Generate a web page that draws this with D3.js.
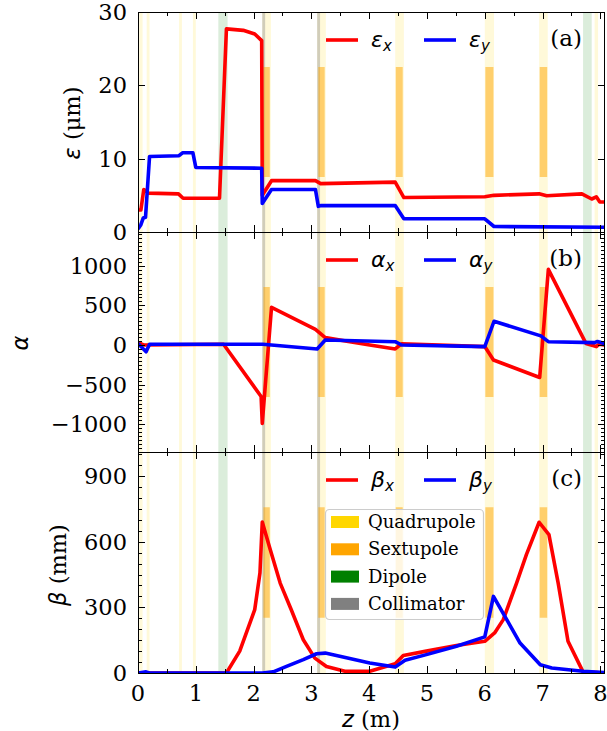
<!DOCTYPE html>
<html lang="en">
<head>
<meta charset="utf-8">
<script src="https://cdn.jsdelivr.net/npm/d3@7"></script>
<style>
  body { margin: 0; background: white; }
  svg { font-family: 'DejaVu Serif'; background: white; }
  .ticklabel { font-size: 22.5px; fill: #000; }
  .math { font-family: 'DejaVu Sans'; font-style: italic; }
</style>
</head>
<body>
<svg width="607" height="731"></svg>
<script>
// lattice elements (z ranges in m)
const quadrupoles = [[0.02, 0.08], [0.15, 0.2], [0.71, 0.76], [0.95, 1.0], [2.15, 2.3], [3.1, 3.25],
                     [4.45, 4.6], [6.0, 6.16], [6.94, 7.09], [7.9, 7.96]];
const sextupoles = [[2.17, 2.28], [3.12, 3.23], [4.46, 4.58], [6.01, 6.15], [6.95, 7.08]];
const dipoles = [[1.39, 1.55], [7.7, 7.85]];
const collimators = [[2.15, 2.2], [3.1, 3.15]];

// emittance (um)
const epsX = [[0, 3.0], [0.05, 3.0], [0.1, 5.8], [0.18, 5.3], [0.7, 5.2], [0.78, 4.6], [1.41, 4.6], [1.53, 27.7],
              [1.82, 27.5], [2.02, 27.0], [2.14, 26.1], [2.15, 5.0], [2.31, 7.0], [3.07, 7.0], [3.16, 6.6],
              [4.45, 6.8], [4.6, 4.7], [6.0, 4.8], [6.16, 5.0], [6.94, 5.2], [7.07, 4.95], [7.68, 5.2],
              [7.85, 4.5], [7.93, 4.8], [7.99, 4.1], [8.07, 4.1]];
const epsY = [[0, 0.4], [0.05, 1.0], [0.09, 1.9], [0.13, 2.0], [0.2, 10.3], [0.71, 10.4], [0.77, 10.8],
              [0.95, 10.8], [1.0, 8.8], [2.14, 8.7], [2.15, 3.9], [2.31, 5.8], [3.07, 5.8], [3.12, 3.5],
              [3.17, 3.6], [4.45, 3.6], [4.6, 1.8], [6.0, 1.8], [6.16, 0.75], [8.07, 0.65]];

// alpha
const alphaX = [[0, 30], [0.1, 0], [1.48, 10], [2.13, -650], [2.15, -990], [2.31, 475], [3.07, 198],
                [3.24, 93], [4.01, 0], [4.45, -50], [4.56, 15], [6.0, -20], [6.15, -190], [6.95, -410],
                [7.1, 955], [7.75, 20], [7.93, -20], [7.98, 10], [8.07, 0]];
const alphaY = [[0, 20], [0.14, -85], [0.2, 10], [2.16, 10], [3.1, -50], [3.24, 63], [4.45, 42], [4.56, 0],
                [6.0, -20], [6.16, 300], [6.97, 115], [7.1, 42], [7.9, 30], [7.95, 45], [8.07, 20]];

// beta (mm)
const betaX = [[0, 0], [1.53, 0], [1.76, 100], [2.02, 290], [2.11, 457], [2.15, 690], [2.28, 571],
               [2.46, 411], [2.65, 290], [2.86, 152], [3.06, 68], [3.26, 30], [3.58, 8], [4.01, 8],
               [4.45, 42], [4.59, 80], [4.99, 100], [5.51, 126], [6.0, 145], [6.17, 183], [6.32, 244],
               [6.55, 411], [6.72, 541], [6.94, 689], [7.11, 632], [7.27, 411], [7.44, 145], [7.7, 5], [8.07, 0]];
const betaY = [[0, 0], [0.14, 5], [0.2, 0], [2.15, 0], [2.34, 5], [2.57, 30], [2.86, 61], [3.09, 88],
               [3.24, 91], [4.01, 46], [4.45, 27], [4.62, 58], [4.99, 84], [5.51, 122], [6.0, 165],
               [6.15, 350], [6.38, 244], [6.61, 137], [6.96, 38], [7.16, 23], [7.7, 8], [8.07, 2]];

const zTicks = [0, 1, 2, 3, 4, 5, 6, 7, 8];
const epsTicks = [0, 10, 20, 30];
const alphaTicks = [-1000, -500, 0, 500, 1000];
const betaTicks = [0, 300, 600, 900];

const svg = d3.select("svg");
const left = 138, right = 605;
const x = d3.scaleLinear().domain([0, 8.08]).range([left, right]);

const panels = [
  {id: "a", top: 12, bottom: 232, domain: [0, 30], ticks: epsTicks, minor: null,
   sx: epsX, sy: epsY, sym: "\u03b5", xlabel: false},
  {id: "b", top: 232, bottom: 452, domain: [-1351, 1427], ticks: alphaTicks, minor: 50,
   sx: alphaX, sy: alphaY, sym: "\u03b1", xlabel: false},
  {id: "c", top: 452, bottom: 673, domain: [0, 1010], ticks: betaTicks, minor: 50,
   sx: betaX, sy: betaY, sym: "\u03b2", xlabel: true}
];

const fmt = v => (v < 0 ? "\u2212" + Math.abs(v) : "" + v);

panels.forEach(p => {
  const y = d3.scaleLinear().domain(p.domain).range([p.bottom, p.top]);
  const g = svg.append("g");
  const h = p.bottom - p.top;

  g.append("clipPath").attr("id", "clip-" + p.id)
    .append("rect").attr("x", left).attr("y", p.top).attr("width", right - left).attr("height", h);

  const bands = g.append("g");
  const span = (list, color, op, y0, y1) => {
    bands.selectAll(null).data(list).enter().append("rect")
      .attr("x", d => x(d[0])).attr("width", d => x(d[1]) - x(d[0]))
      .attr("y", p.top + y0 * h).attr("height", (y1 - y0) * h)
      .attr("fill", color).attr("fill-opacity", op);
  };
  span(quadrupoles, "#FFD700", 0.15, 0, 1);
  span(dipoles, "#008000", 0.14, 0, 1);
  span(collimators, "#808080", 0.36, 0, 1);
  span(sextupoles, "#FFA500", 0.5, 0.25, 0.75);

  const line = d3.line().x(d => x(d[0])).y(d => y(d[1]));
  const lines = g.append("g").attr("clip-path", "url(#clip-" + p.id + ")");
  lines.append("path").datum(p.sx).attr("d", line)
    .attr("fill", "none").attr("stroke", "#ff0000").attr("stroke-width", 3.6).attr("stroke-linejoin", "round");
  lines.append("path").datum(p.sy).attr("d", line)
    .attr("fill", "none").attr("stroke", "#0000ff").attr("stroke-width", 3.6).attr("stroke-linejoin", "round");

  // ticks, all pointing inward
  const tk = g.append("g").attr("stroke", "#000").attr("stroke-width", 1);
  d3.range(0, 8.01, 0.5).forEach(v => {
    const len = Number.isInteger(v) ? 7 : 4;
    const xx = Math.round(x(v)) + 0.5;
    tk.append("line").attr("x1", xx).attr("x2", xx).attr("y1", p.bottom).attr("y2", p.bottom - len);
    tk.append("line").attr("x1", xx).attr("x2", xx).attr("y1", p.top).attr("y2", p.top + len);
  });
  if (p.minor) {
    d3.range(Math.ceil(p.domain[0] / p.minor) * p.minor, p.domain[1], p.minor).forEach(v => {
      const yy = Math.round(y(v)) + 0.5;
      tk.append("line").attr("x1", left).attr("x2", left + 4).attr("y1", yy).attr("y2", yy);
      tk.append("line").attr("x1", right).attr("x2", right - 4).attr("y1", yy).attr("y2", yy);
    });
  }
  p.ticks.forEach(v => {
    const yy = Math.round(y(v)) + 0.5;
    tk.append("line").attr("x1", left).attr("x2", left + 7).attr("y1", yy).attr("y2", yy);
    tk.append("line").attr("x1", right).attr("x2", right - 7).attr("y1", yy).attr("y2", yy);
    g.append("text").attr("class", "ticklabel").attr("x", 127).attr("y", y(v) + 8)
      .attr("text-anchor", "end").text(fmt(v));
  });

  g.append("rect").attr("x", left + 0.5).attr("y", p.top + 0.5)
    .attr("width", right - left - 1).attr("height", h)
    .attr("fill", "none").attr("stroke", "#000").attr("stroke-width", 1);

  // legend
  const ly = p.top + 28;
  const entry = (x0, color, sub) => {
    g.append("line").attr("x1", x0).attr("x2", x0 + 32).attr("y1", ly).attr("y2", ly)
      .attr("stroke", color).attr("stroke-width", 3.6);
    const t = g.append("text").attr("x", x0 + 45).attr("y", ly + 7).attr("font-size", 22);
    t.append("tspan").attr("class", "math").text(p.sym);
    t.append("tspan").attr("class", "math").attr("font-size", 15).attr("dy", 4).text(sub);
  };
  entry(326, "#ff0000", "x");
  entry(424, "#0000ff", "y");
  g.append("text").attr("x", 582).attr("y", p.top + 34).attr("text-anchor", "end")
    .attr("font-size", 23).text("(" + p.id + ")");

  if (p.xlabel) {
    zTicks.forEach(v => {
      g.append("text").attr("class", "ticklabel").attr("x", x(v)).attr("y", 701)
        .attr("text-anchor", "middle").text(v);
    });
  }
});

// y labels
const ylab = (xx, yy, sym, unit) => {
  const t = svg.append("text").attr("transform", `translate(${xx},${yy}) rotate(-90)`)
    .attr("text-anchor", "middle").attr("font-size", 22.5);
  t.append("tspan").attr("class", "math").text(sym);
  if (unit) t.append("tspan").text(unit);
};
ylab(80, 123, "\u03b5", " (\u03bcm)");
ylab(28, 343, "\u03b1", null);
ylab(66, 565, "\u03b2", " (mm)");

const xl = svg.append("text").attr("x", 371).attr("y", 727).attr("text-anchor", "middle").attr("font-size", 22.5);
xl.append("tspan").attr("class", "math").text("z");
xl.append("tspan").text(" (m)");

// element legend in panel (c)
const elements = [["Quadrupole", "#FFD700"], ["Sextupole", "#FFA500"], ["Dipole", "#008000"], ["Collimator", "#808080"]];
const leg = svg.append("g");
leg.append("rect").attr("x", 325.5).attr("y", 509.5).attr("width", 158).attr("height", 110).attr("rx", 4)
  .attr("fill", "white").attr("fill-opacity", 0.8).attr("stroke", "#cccccc").attr("stroke-width", 1.2);
elements.forEach((d, i) => {
  const cy = 522 + i * 27.3;
  leg.append("rect").attr("x", 331).attr("y", cy - 6).attr("width", 28).attr("height", 12).attr("fill", d[1]);
  leg.append("text").attr("x", 368).attr("y", cy + 6).attr("font-size", 18).text(d[0]);
});
</script>
</body>
</html>
